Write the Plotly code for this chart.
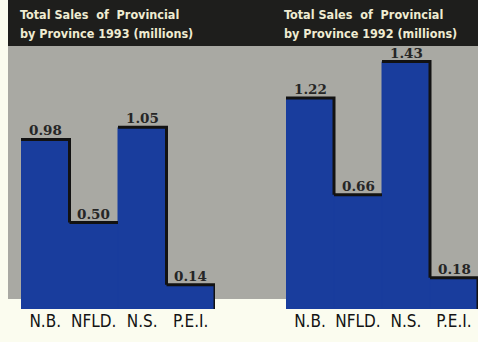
import plotly.graph_objects as go

# Provincial sales, millions
categories = ["N.B.", "NFLD.", "N.S.", "P.E.I."]
sales_1993 = [0.98, 0.50, 1.05, 0.14]
sales_1992 = [1.22, 0.66, 1.43, 0.18]
title_1993 = ["Total Sales  of  Provincial", "by Province 1993 (millions)"]
title_1992 = ["Total Sales  of  Provincial", "by Province 1992 (millions)"]

W, H = 478, 342
PLOT_TOP, PLOT_BOTTOM = 46, 309          # pixel rows of the plotting band
BLUE = "#193d9d"
GRAY = "#a9a9a3"
HEADER = "#1e1e1c"
PAPER = "#fbfcef"
INK = "#141414"
COND = "DejaVu Sans Condensed, Liberation Sans Narrow, Arial Narrow, sans-serif"


def px_to_paper_y(py):
    return (PLOT_BOTTOM - py) / (PLOT_BOTTOM - PLOT_TOP)


def outline(vals):
    """Dark stepped edge along bar tops and descending right sides."""
    xs, ys = [], []
    n = len(vals)
    for i, h in enumerate(vals):
        nxt = vals[i + 1] if i + 1 < n else 0
        xs += [i - 0.5, i + 0.5]
        ys += [h, h]
        if nxt < h:
            xs.append(i + 0.5)
            ys.append(nxt)
        xs.append(None)
        ys.append(None)
    return xs, ys


fig = go.Figure()
idx = list(range(len(categories)))

for vals, xa, ya in [(sales_1993, "x", "y"), (sales_1992, "x2", "y2")]:
    fig.add_trace(go.Bar(
        x=idx, y=vals, width=1.0,
        marker=dict(color=BLUE, line=dict(width=1, color=BLUE)),
        xaxis=xa, yaxis=ya, showlegend=False, hoverinfo="skip",
    ))
    ox, oy = outline(vals)
    fig.add_trace(go.Scatter(
        x=ox, y=oy, mode="lines", line=dict(color="#121212", width=3),
        xaxis=xa, yaxis=ya, showlegend=False, hoverinfo="skip",
        connectgaps=False,
    ))
    for i, v in enumerate(vals):
        fig.add_annotation(
            x=i, y=v, xref=xa, yref=ya, text=f"{v:.2f}", showarrow=False,
            yanchor="bottom", yshift=-1,
            font=dict(family="DejaVu Serif", size=13.5, color="#262626",
                      weight="bold"),
        )

ymax = (PLOT_BOTTOM - PLOT_TOP) / 173.0
axis_common = dict(
    range=[-0.5, 3.5], tickmode="array", tickvals=idx, ticktext=categories,
    showgrid=False, zeroline=False, showline=False, ticks="",
    tickangle=0, automargin=False,
    tickfont=dict(family=COND, size=17, color=INK),
    fixedrange=True,
)
yaxis_common = dict(range=[0, ymax], visible=False, fixedrange=True,
                    automargin=False)

fig.update_layout(
    width=W, height=H,
    margin=dict(l=0, r=0, t=PLOT_TOP, b=H - PLOT_BOTTOM, pad=0, autoexpand=False),
    paper_bgcolor=PAPER, plot_bgcolor="rgba(0,0,0,0)",
    xaxis=dict(domain=[21 / W, 215 / W], anchor="y", **axis_common),
    xaxis2=dict(domain=[286 / W, 1.0], anchor="y2", **axis_common),
    yaxis=dict(domain=[0, 1], anchor="x", **yaxis_common),
    yaxis2=dict(domain=[0, 1], anchor="x2", **yaxis_common),
    shapes=[
        dict(type="rect", xref="paper", yref="paper", layer="below",
             x0=8 / W, x1=1.0, y0=px_to_paper_y(299), y1=1.0,
             fillcolor=GRAY, line=dict(width=0)),
        dict(type="rect", xref="paper", yref="paper", layer="below",
             x0=8 / W, x1=1.0, y0=1.0, y1=px_to_paper_y(0),
             fillcolor=HEADER, line=dict(width=0)),
    ],
)

for lines, x in [(title_1993, 18 / W), (title_1992, 282 / W)]:
    for text, top in zip(lines, [5, 24]):
        fig.add_annotation(
            x=x, y=px_to_paper_y(top), xref="paper", yref="paper", text=text,
            showarrow=False, xanchor="left", yanchor="top", align="left",
            font=dict(family=COND, size=12.5, color="#efecd2", weight="bold"),
        )

fig.write_html("out.html", config={"displayModeBar": False})
